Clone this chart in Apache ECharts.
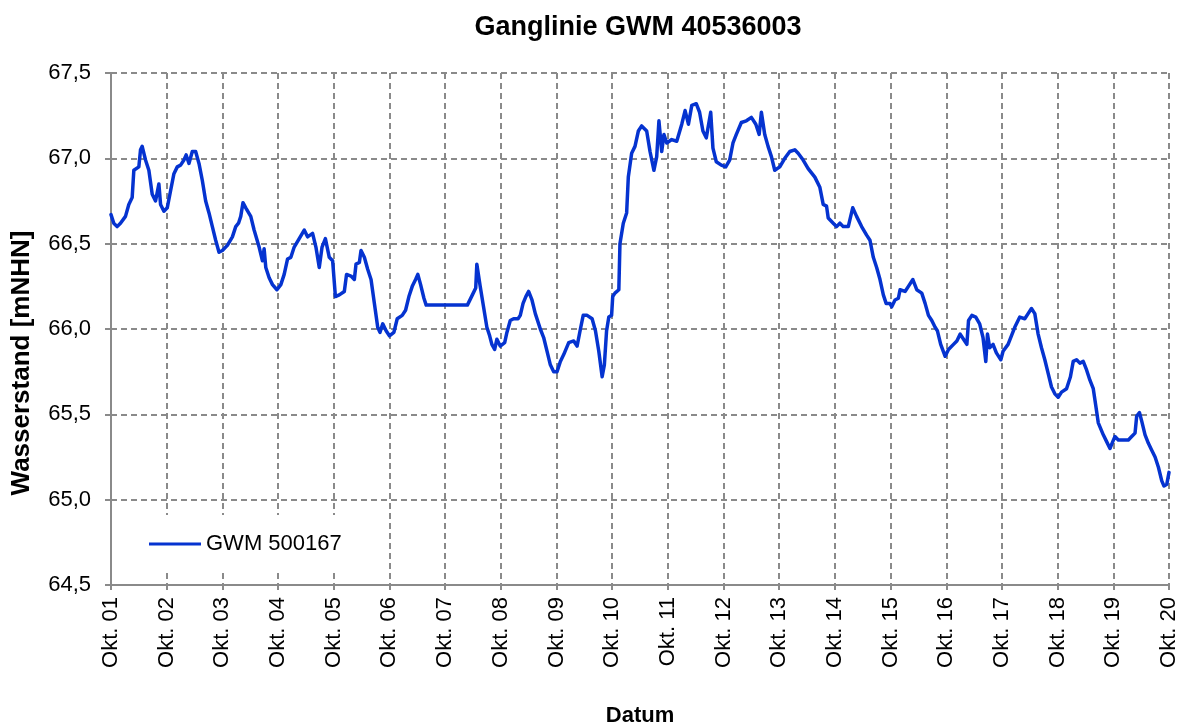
<!DOCTYPE html>
<html>
<head>
<meta charset="utf-8">
<title>Ganglinie GWM 40536003</title>
<script src="https://cdn.jsdelivr.net/npm/echarts@6/dist/echarts.min.js"></script>
<style>
  html, body { margin: 0; padding: 0; background: #fff; }
  #chart { width: 1183px; height: 728px; }
</style>
</head>
<body>
<div id="chart"></div>
<script>
// Zeit in Jahren ab 01.10.2001 (0 = Okt. 01, 19 = Okt. 20)
const zeit = [
  0.00, 0.05, 0.11, 0.17, 0.26, 0.32, 0.38, 0.41, 0.50, 0.53, 0.56, 0.62, 0.68, 0.74, 0.80, 0.86, 0.89, 0.95,
  1.01, 1.07, 1.13, 1.19, 1.25, 1.31, 1.35, 1.40, 1.46, 1.52, 1.58, 1.64, 1.70, 1.76, 1.82, 1.88, 1.94,
  2.00, 2.09, 2.18, 2.24, 2.29, 2.33, 2.37, 2.42, 2.51, 2.57, 2.66, 2.72, 2.75, 2.78, 2.84, 2.90, 2.98,
  3.05, 3.11, 3.17, 3.23, 3.29, 3.38, 3.47, 3.53, 3.62, 3.68, 3.74, 3.79, 3.85, 3.92, 3.98,
  4.03, 4.10, 4.19, 4.23, 4.31, 4.37, 4.40, 4.46, 4.49, 4.55, 4.61, 4.67, 4.73, 4.79, 4.83, 4.88, 4.94,
  5.00, 5.08, 5.14, 5.23, 5.29, 5.35, 5.41, 5.47, 5.51, 5.56, 5.62, 5.66,
  6.40, 6.49, 6.55, 6.57, 6.63, 6.69, 6.75, 6.80, 6.84, 6.89, 6.93, 6.99,
  7.07, 7.11, 7.17, 7.23, 7.31, 7.35, 7.40, 7.45, 7.50, 7.56, 7.62, 7.71, 7.77, 7.83, 7.89, 7.95,
  8.01, 8.07, 8.13, 8.22, 8.31, 8.37, 8.43, 8.48, 8.55, 8.64, 8.70, 8.76, 8.82, 8.86, 8.90, 8.94, 8.99,
  9.01, 9.05, 9.12, 9.14, 9.20, 9.26, 9.29, 9.35, 9.41, 9.47, 9.53, 9.62, 9.68, 9.75, 9.80, 9.84, 9.89, 9.93, 9.98,
  10.07, 10.16, 10.25, 10.31, 10.37, 10.43, 10.51, 10.57, 10.63, 10.69, 10.72, 10.77, 10.81, 10.87, 10.96,
  11.04, 11.11, 11.17, 11.23, 11.32, 11.41, 11.50, 11.58, 11.64, 11.68, 11.74, 11.80, 11.86, 11.92,
  12.01, 12.10, 12.19, 12.28, 12.34, 12.43, 12.52, 12.64, 12.73, 12.79, 12.85, 12.88, 12.97,
  13.03, 13.09, 13.15, 13.24, 13.32, 13.39, 13.48, 13.57, 13.63, 13.69, 13.75, 13.81, 13.87, 13.92, 13.99,
  14.02, 14.08, 14.14, 14.17, 14.26, 14.32, 14.40, 14.47, 14.56, 14.62, 14.68, 14.74, 14.80, 14.84, 14.90, 14.98,
  15.04, 15.13, 15.19, 15.25, 15.31, 15.37, 15.40, 15.46, 15.53, 15.60, 15.66, 15.71, 15.74, 15.78, 15.84, 15.90, 15.98,
  16.02, 16.11, 16.17, 16.23, 16.32, 16.41, 16.47, 16.53, 16.59, 16.65, 16.71, 16.77, 16.83, 16.89, 16.95,
  17.01, 17.07, 17.16, 17.23, 17.28, 17.34, 17.40, 17.46, 17.52, 17.58, 17.64, 17.69, 17.73, 17.82, 17.88, 17.94, 17.99,
  18.03, 18.09, 18.18, 18.27, 18.33, 18.39, 18.42, 18.47, 18.51, 18.57, 18.63, 18.69, 18.75, 18.81, 18.87, 18.91, 18.96,
  19.00
];

// Wasserstand in m NHN, GWM 500167
const wasserstand = [
  66.67, 66.62, 66.60, 66.62, 66.66, 66.73, 66.77, 66.93, 66.95, 67.05, 67.07, 66.99, 66.93, 66.79, 66.75, 66.85, 66.73, 66.69,
  66.71, 66.81, 66.91, 66.95, 66.96, 66.99, 67.02, 66.97, 67.04, 67.04, 66.97, 66.87, 66.75, 66.68, 66.60, 66.52, 66.45,
  66.46, 66.49, 66.54, 66.60, 66.62, 66.66, 66.74, 66.71, 66.66, 66.58, 66.48, 66.40, 66.47, 66.36, 66.30, 66.26, 66.23,
  66.26, 66.32, 66.41, 66.42, 66.48, 66.53, 66.58, 66.54, 66.56, 66.48, 66.36, 66.48, 66.53, 66.42, 66.40,
  66.19, 66.20, 66.22, 66.32, 66.31, 66.29, 66.38, 66.39, 66.46, 66.42, 66.35, 66.29, 66.15, 66.01, 65.98, 66.03, 65.99,
  65.96, 65.98, 66.06, 66.08, 66.11, 66.19, 66.25, 66.29, 66.32, 66.26, 66.18, 66.14,
  66.14, 66.20, 66.24, 66.38, 66.25, 66.13, 66.01, 65.96, 65.91, 65.88, 65.94, 65.90,
  65.92, 65.98, 66.05, 66.06, 66.06, 66.08, 66.15, 66.19, 66.22, 66.17, 66.09, 66.00, 65.95, 65.87, 65.79, 65.75,
  65.75, 65.81, 65.85, 65.92, 65.93, 65.90, 66.00, 66.08, 66.08, 66.06, 65.99, 65.87, 65.72, 65.79, 65.99, 66.07, 66.08,
  66.19, 66.21, 66.23, 66.50, 66.62, 66.68, 66.89, 67.03, 67.07, 67.16, 67.19, 67.16, 67.04, 66.93, 67.01, 67.22, 67.04, 67.14, 67.09,
  67.11, 67.10, 67.20, 67.28, 67.20, 67.31, 67.32, 67.27, 67.16, 67.12, 67.11, 67.27, 67.06, 66.98, 66.96,
  66.95, 66.99, 67.09, 67.14, 67.21, 67.22, 67.24, 67.20, 67.14, 67.27, 67.14, 67.07, 67.01, 66.93,
  66.95, 67.00, 67.04, 67.05, 67.03, 66.99, 66.94, 66.89, 66.83, 66.73, 66.72, 66.65, 66.62,
  66.60, 66.62, 66.60, 66.60, 66.71, 66.66, 66.60, 66.55, 66.52, 66.42, 66.36, 66.29, 66.20, 66.15, 66.15,
  66.13, 66.17, 66.18, 66.23, 66.22, 66.25, 66.29, 66.23, 66.21, 66.15, 66.08, 66.05, 66.01, 65.99, 65.91, 65.84,
  65.88, 65.91, 65.93, 65.97, 65.94, 65.91, 66.05, 66.08, 66.07, 66.03, 65.95, 65.81, 65.97, 65.89, 65.91, 65.86, 65.82,
  65.87, 65.91, 65.96, 66.01, 66.07, 66.06, 66.09, 66.12, 66.09, 65.97, 65.89, 65.82, 65.74, 65.66, 65.62,
  65.60, 65.63, 65.65, 65.72, 65.81, 65.82, 65.80, 65.81, 65.76, 65.70, 65.65, 65.54, 65.45, 65.38, 65.34, 65.30, 65.34,
  65.37, 65.35, 65.35, 65.35, 65.37, 65.39, 65.49, 65.51, 65.46, 65.38, 65.33, 65.29, 65.25, 65.19, 65.11, 65.08, 65.09,
  65.16
];

const xTickLabels = [
  'Okt. 01', 'Okt. 02', 'Okt. 03', 'Okt. 04', 'Okt. 05', 'Okt. 06', 'Okt. 07', 'Okt. 08', 'Okt. 09', 'Okt. 10',
  'Okt. 11', 'Okt. 12', 'Okt. 13', 'Okt. 14', 'Okt. 15', 'Okt. 16', 'Okt. 17', 'Okt. 18', 'Okt. 19', 'Okt. 20'
];

const seriesName = 'GWM 500167';
const FONT = 'Arial, "Liberation Sans", Helvetica, sans-serif';
const lineBlue = '#0533d0';

const gridGray = '#8a8a8a';
const dashed = { type: [6, 4], width: 2, color: gridGray };

const chart = echarts.init(document.getElementById('chart'), null, { renderer: 'canvas' });

chart.setOption({
  backgroundColor: '#ffffff',
  animation: false,
  title: {
    text: 'Ganglinie GWM 40536003',
    left: 633,
    textAlign: 'center',
    top: 9,
    textStyle: { fontFamily: FONT, fontSize: 27, fontWeight: 'bold', color: '#000' }
  },
  grid: { left: 111, right: 14, top: 73, bottom: 143, containLabel: false },
  legend: {
    data: [{ name: seriesName, icon: 'rect' }],
    left: 112,
    top: 515,
    orient: 'vertical',
    backgroundColor: '#ffffff',
    padding: [18, 37, 18, 37],
    itemWidth: 52,
    itemHeight: 3,
    itemGap: 0,
    itemStyle: { color: lineBlue, borderWidth: 0 },
    textStyle: { fontFamily: FONT, fontSize: 22, color: '#000', lineHeight: 22 }
  },
  xAxis: {
    type: 'value',
    min: 0,
    max: 19,
    interval: 1,
    axisLine: { show: true, onZero: false, lineStyle: { color: gridGray, width: 2 } },
    axisTick: { show: true, inside: false, length: 5, lineStyle: { color: gridGray, width: 2 } },
    splitLine: { show: true, lineStyle: dashed },
    axisLabel: {
      rotate: 90,
      margin: 12,
      fontFamily: FONT,
      fontSize: 22,
      color: '#000',
      formatter: v => xTickLabels[Math.round(v)] || ''
    }
  },
  yAxis: {
    type: 'value',
    min: 64.5,
    max: 67.5,
    interval: 0.5,
    axisLine: { show: true, onZero: false, lineStyle: { color: gridGray, width: 2 } },
    axisTick: { show: true, length: 6, lineStyle: { color: gridGray, width: 2 } },
    splitLine: { show: true, lineStyle: dashed },
    axisLabel: {
      margin: 20,
      fontFamily: FONT,
      fontSize: 22,
      color: '#000',
      formatter: v => v.toFixed(1).replace('.', ',')
    }
  },
  graphic: [
    {
      type: 'text',
      x: 22,
      y: 363,
      rotation: Math.PI / 2,
      style: {
        text: 'Wasserstand [mNHN]',
        font: 'bold 26px ' + FONT,
        fill: '#000',
        align: 'center',
        verticalAlign: 'middle'
      }
    },
    {
      type: 'text',
      x: 640,
      y: 716,
      style: {
        text: 'Datum',
        font: 'bold 22px ' + FONT,
        fill: '#000',
        align: 'center',
        verticalAlign: 'middle'
      }
    }
  ],
  series: [
    {
      name: seriesName,
      type: 'line',
      data: zeit.map((t, i) => [t, wasserstand[i]]),
      symbol: 'none',
      showSymbol: false,
      lineStyle: { color: lineBlue, width: 3.5, join: 'round', cap: 'round' },
      itemStyle: { color: lineBlue },
      z: 3
    }
  ]
});
</script>
</body>
</html>
